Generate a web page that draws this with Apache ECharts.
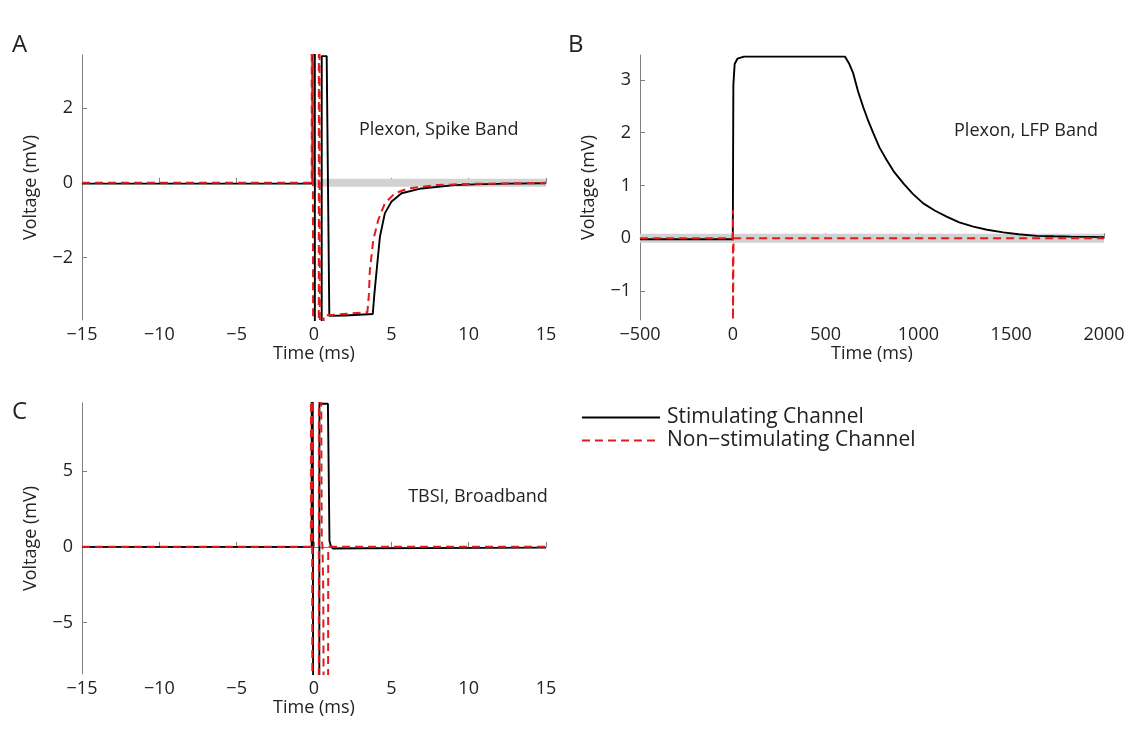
<!DOCTYPE html>
<html><head><meta charset="utf-8">
<script src="https://cdn.jsdelivr.net/npm/echarts@6/dist/echarts.min.js"></script>
<style>html,body{margin:0;padding:0;background:#ffffff}#c{width:1139px;height:737px}</style>
</head><body><div id="c"></div>
<script>
// ---- Panel A: Plexon, Spike Band (time ms, voltage mV) ----
const aStimT = [-15, -0.1, -0.09, 0.05, 0.06, 0.49, 0.5, 0.82, 0.99, 2, 3.8, 3.9, 4.05, 4.26, 4.58, 5.0, 5.66, 6.95, 9.1, 10.4, 12.5, 15];
const aStimV = [-0.02, -0.02, 20, 20, -20, -20, 3.40, 3.40, -3.57, -3.56, -3.52, -3.0, -2.35, -1.45, -0.82, -0.51, -0.28, -0.15, -0.06, -0.04, -0.02, -0.01];
const aNonT = [-15, -0.15, -0.14, -0.02, 0.0, 0.30, 0.32, 0.38, 0.42, 0.6, 0.62, 3.45, 3.55, 3.61, 3.83, 4.15, 4.58, 5.23, 6.08, 8.0, 9.8, 15];
const aNonV = [0, 0, 20, 20, -20, -20, 20, 20, -20, -20, -3.56, -3.47, -3.0, -2.35, -1.54, -1.0, -0.55, -0.28, -0.15, -0.06, -0.03, 0];
const aBandT = [0, 15];
// ---- Panel B: Plexon, LFP Band ----
const bStimT = [-500, 0, 1, 3, 10, 25, 60, 604, 625, 649, 675, 703, 730, 757, 790, 829, 870, 919, 970, 1026, 1090, 1152, 1220, 1296, 1370, 1457, 1540, 1637, 1730, 1820, 2000];
const bStimV = [-0.02, -0.02, 1.0, 2.9, 3.3, 3.40, 3.44, 3.44, 3.32, 3.12, 2.78, 2.48, 2.22, 1.99, 1.72, 1.48, 1.25, 1.04, 0.84, 0.66, 0.52, 0.41, 0.30, 0.22, 0.16, 0.11, 0.075, 0.044, 0.036, 0.03, 0.02];
const bNonT = [-500, 0, 0.5, 1, 3, 4, 2000];
const bNonV = [0, 0, 0.53, -1.55, -1.55, 0, 0];
const bBandT = [-500, 2000];
// ---- Panel C: TBSI, Broadband ----
const cStimT = [-15, -0.15, -0.14, -0.02, 0.0, 0.33, 0.35, 0.9, 1.0, 1.1, 1.25, 3, 15];
const cStimV = [0, 0, 50, 50, -50, -50, 9.45, 9.45, 0.4, 0, -0.12, -0.1, -0.05];
const cNonT = [-15, -0.2, -0.19, -0.1, -0.05, 0.3, 0.33, 0.4, 0.5, 0.55, 0.6, 0.75, 0.88, 0.92, 1.0, 15];
const cNonV = [0, 0, 50, 50, -50, -50, 50, 50, 0.5, 0, -3, -50, -50, -0.3, 0, 0];
// ---- axis ranges & ticks ----
const aY = {min: -3.68, max: 3.43, ticks: [-2, 0, 2]};
const bY = {min: -1.55, max: 3.47, ticks: [-1, 0, 1, 2, 3]};
const cY = {min: -8.4, max: 9.5, ticks: [-5, 0, 5]};
const msX = {min: -15, max: 15, interval: 5};
const lfpX = {min: -500, max: 2000, interval: 500};
const STIM = 'Stimulating Channel';
const NON = 'Non\u2212stimulating Channel';

const zip = (t, v) => t.map((x, i) => [x, v[i]]);
const minus = v => String(v).replace('-', '\u2212');
const FONT = 'Open Sans';
const FS = 18;
const TXT = '#222';
const AX = '#808080';

function xAx(idx, r) {
  return {gridIndex: idx, type: 'value', min: r.min, max: r.max, interval: r.interval,
    name: 'Time (ms)', nameLocation: 'middle', nameGap: 24,
    nameTextStyle: {fontFamily: FONT, fontSize: FS, color: TXT},
    axisLine: {lineStyle: {color: AX, width: 1}}, splitLine: {show: false},
    axisTick: {inside: true, length: 5, lineStyle: {color: AX}},
    axisLabel: {formatter: minus, fontFamily: FONT, fontSize: FS, color: TXT, margin: 6, showMinLabel: true, showMaxLabel: true}};
}
function yAx(idx, r) {
  return {gridIndex: idx, type: 'value', min: r.min, max: r.max,
    name: 'Voltage (mV)', nameLocation: 'middle', nameGap: 42, nameRotate: 90,
    nameTextStyle: {fontFamily: FONT, fontSize: FS, color: TXT},
    axisLine: {show: true, onZero: false, lineStyle: {color: AX, width: 1}}, splitLine: {show: false},
    axisTick: {inside: true, length: 5, lineStyle: {color: AX}, customValues: r.ticks},
    axisLabel: {formatter: minus, fontFamily: FONT, fontSize: FS, color: TXT, margin: 9, customValues: r.ticks}};
}
function line(name, t, v, gi, black) {
  const col = black ? '#000000' : '#e41a1c';
  return {name: name, type: 'line', xAxisIndex: gi, yAxisIndex: gi, data: zip(t, v),
    symbol: 'none', showSymbol: false, animation: false, z: black ? 3 : 4,
    itemStyle: {color: col},
    lineStyle: black ? {color: col, width: 1.9} : {color: col, width: 2, type: [8, 5]}};
}
function band(t, gi, w) {
  return {name: 'band', type: 'line', xAxisIndex: gi, yAxisIndex: gi, data: t.map(x => [x, 0]),
    symbol: 'none', silent: true, animation: false, clip: false, z: 1,
    lineStyle: {color: '#d2d2d2', width: w}};
}

const chart = echarts.init(document.getElementById('c'));
chart.setOption({
  backgroundColor: '#ffffff',
  textStyle: {fontFamily: FONT},
  grid: [
    {left: 82, top: 55, width: 464, height: 265},
    {left: 640, top: 55, width: 464, height: 265},
    {left: 82, top: 403, width: 464, height: 271}
  ],
  xAxis: [xAx(0, msX), xAx(1, lfpX), xAx(2, msX)],
  yAxis: [yAx(0, aY), yAx(1, bY), yAx(2, cY)],
  legend: {orient: 'vertical', left: 576, top: 402, itemWidth: 78, itemHeight: 12, itemGap: 2,
    itemStyle: {opacity: 0},
    data: [STIM, NON], textStyle: {fontFamily: FONT, fontSize: 21, color: TXT, padding: [0, 0, 0, 2]}, selectedMode: false},
  series: [
    band(aBandT, 0, 8),
    line(STIM, aStimT, aStimV, 0, true),
    line(NON, aNonT, aNonV, 0, false),
    band(bBandT, 1, 9),
    line(STIM, bStimT, bStimV, 1, true),
    line(NON, bNonT, bNonV, 1, false),
    line(STIM, cStimT, cStimV, 2, true),
    line(NON, cNonT, cNonV, 2, false)
  ],
  graphic: [
    {type: 'text', x: 12, y: 45, style: {text: 'A', fontFamily: FONT, fontSize: 24, fill: TXT, verticalAlign: 'middle'}},
    {type: 'text', x: 568, y: 45, style: {text: 'B', fontFamily: FONT, fontSize: 24, fill: TXT, verticalAlign: 'middle'}},
    {type: 'text', x: 12, y: 412, style: {text: 'C', fontFamily: FONT, fontSize: 24, fill: TXT, verticalAlign: 'middle'}},
    {type: 'text', x: 359, y: 130, style: {text: 'Plexon, Spike Band', fontFamily: FONT, fontSize: FS, fill: TXT, verticalAlign: 'middle'}},
    {type: 'text', x: 1098, y: 131, style: {text: 'Plexon, LFP Band', fontFamily: FONT, fontSize: FS, fill: TXT, verticalAlign: 'middle', align: 'right'}},
    {type: 'text', x: 478, y: 497, style: {text: 'TBSI, Broadband', fontFamily: FONT, fontSize: FS, fill: TXT, verticalAlign: 'middle', align: 'center'}}
  ]
});
</script></body></html>
